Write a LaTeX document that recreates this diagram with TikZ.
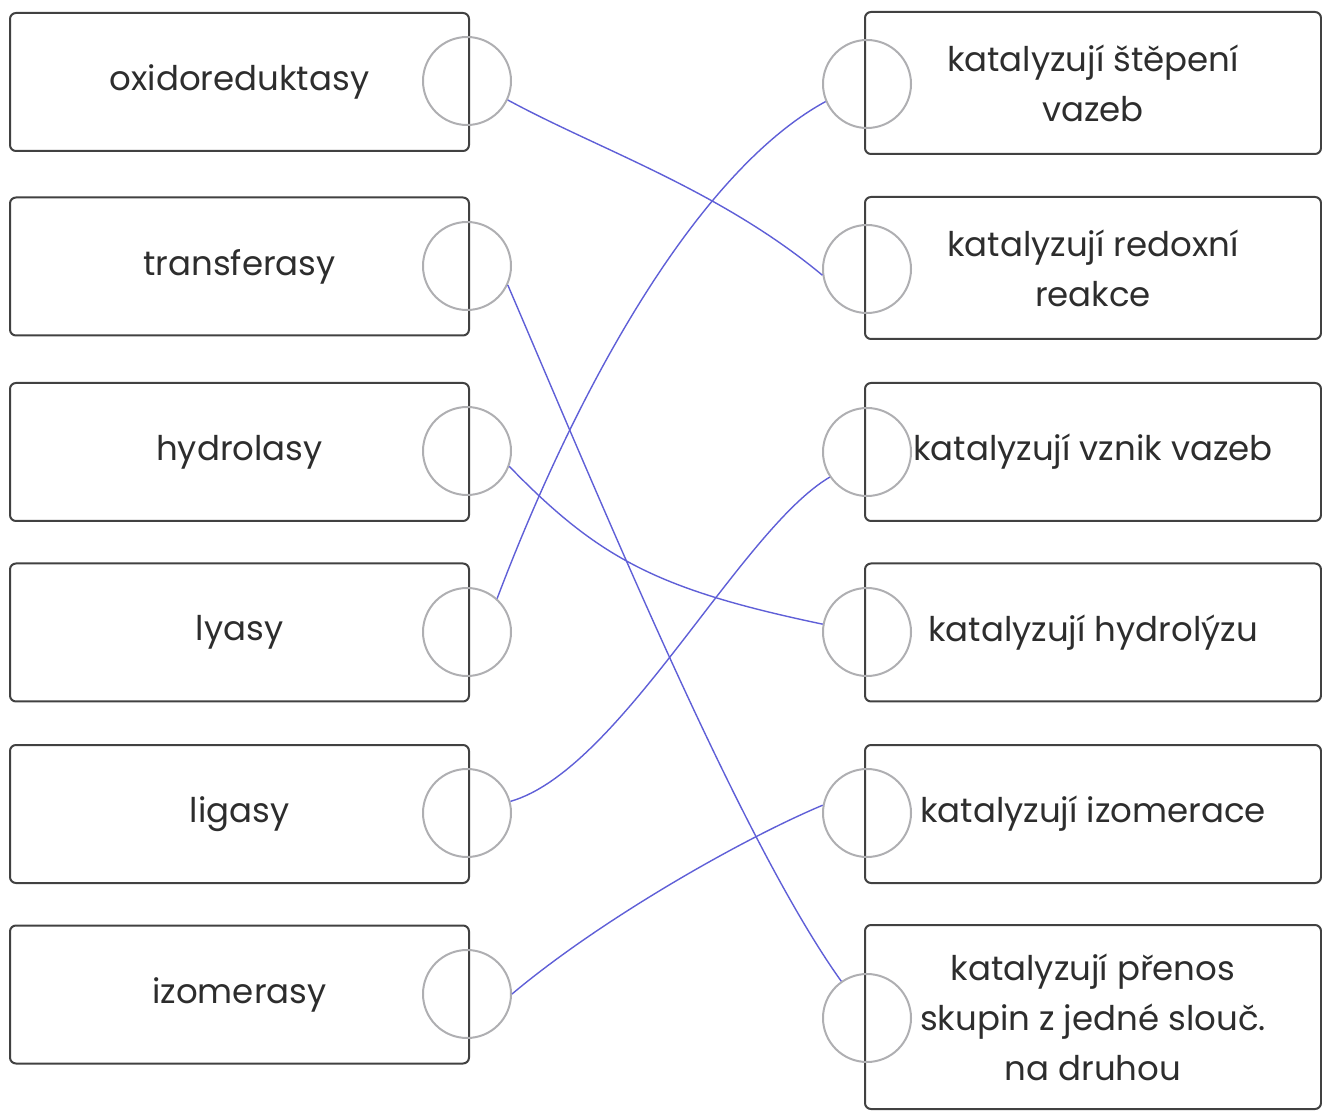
\documentclass[tikz,border=0pt]{standalone}
\usepackage{fontspec}
\setmainfont{Poppins}
\definecolor{boxline}{RGB}{65,65,65}
\definecolor{ringline}{RGB}{175,175,178}
\definecolor{linkblue}{RGB}{95,95,215}
\definecolor{txt}{RGB}{45,45,45}
\tikzset{
  leftbox/.style={draw=boxline, line width=1pt, rounded corners=3pt,
    minimum width=229.5pt, minimum height=69pt, text=txt,
    font=\fontsize{17}{25}\selectfont, align=center},
  rightbox/.style={leftbox, minimum width=228pt},
  ring/.style={circle, draw=ringline, line width=1pt, minimum size=44pt, inner sep=0pt},
  link/.style={draw=linkblue, line width=0.7pt}
}
\begin{document}
\begin{tikzpicture}[x=0.5pt, y=-0.5pt]
\useasboundingbox (0,0) rectangle (1322,1111);
% left column
\node[leftbox] (oxi) at (239.5,82) {oxidoreduktasy};
\node[leftbox] (tra) at (239.5,266.5) {transferasy};
\node[leftbox] (hyd) at (239.5,452) {hydrolasy};
\node[leftbox] (lya) at (239.5,632.5) {lyasy};
\node[leftbox] (lig) at (239.5,814) {ligasy};
\node[leftbox] (izo) at (239.5,994.5) {izomerasy};
% right column
\node[rightbox, minimum height=71pt] (stepeni) at (1093,83) {katalyzují štěpení\\vazeb};
\node[rightbox, minimum height=71pt] (redox) at (1093,268) {katalyzují redoxní\\reakce};
\node[rightbox] (vznik) at (1093,452) {katalyzují vznik vazeb};
\node[rightbox] (hydrolyza) at (1093,632.5) {katalyzují hydrolýzu};
\node[rightbox] (izomerace) at (1093,814) {katalyzují izomerace};
\node[rightbox, minimum height=92pt] (prenos) at (1093,1017) {katalyzují přenos\\skupin z jedné slouč.\\na druhou};
% rings
\node[ring] (oxiR) at (467,81) {};
\node[ring] (traR) at (467,266) {};
\node[ring] (hydR) at (467,451) {};
\node[ring] (lyaR) at (467,632) {};
\node[ring] (ligR) at (467,813) {};
\node[ring] (izoR) at (467,994) {};
\node[ring] (stepeniR) at (867,84) {};
\node[ring] (redoxR) at (867,269) {};
\node[ring] (vznikR) at (867,452) {};
\node[ring] (hydrolyzaR) at (867,632) {};
\node[ring] (izomeraceR) at (867,813) {};
\node[ring] (prenosR) at (867,1018) {};
% links
\draw[link] (oxiR.-25) .. controls (600,150) and (720,190) .. (redoxR.188);
\draw[link] (traR.-25) .. controls (600,500) and (740,840) .. (prenosR.125);
\draw[link] (hydR.-20) .. controls (600,560) and (660,590) .. (hydrolyzaR.170);
\draw[link] (lyaR.48) .. controls (580,380) and (700,170) .. (stepeniR.203);
\draw[link] (ligR.15) .. controls (620,770) and (740,530) .. (vznikR.214);
\draw[link] (izoR.0) .. controls (600,920) and (740,840) .. (izomeraceR.170);
\end{tikzpicture}
\end{document}
